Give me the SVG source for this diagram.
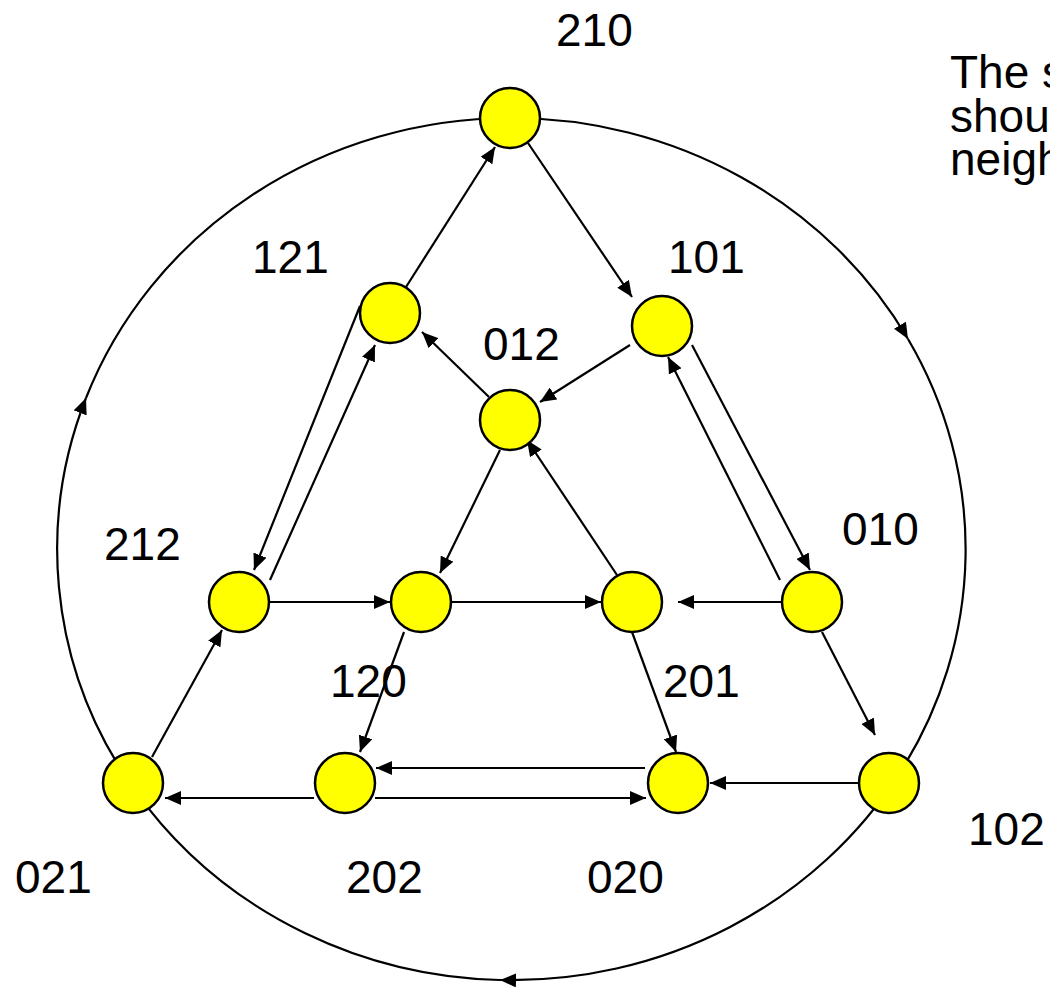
<svg xmlns="http://www.w3.org/2000/svg" width="1050" height="987" viewBox="0 0 1050 987">
<style>
.lbl{font-family:"Liberation Sans",Arial,sans-serif;font-size:46px;fill:#000}
.node{fill:#FFFF00;stroke:#000;stroke-width:2.5}
.e{stroke:#000;stroke-width:2.2;fill:none;marker-end:url(#ah)}
.ring{stroke:#000;stroke-width:2.2;fill:none}
</style>
<defs>
<marker id="ah" viewBox="0 0 16 14" refX="16" refY="7" markerWidth="16" markerHeight="14" markerUnits="userSpaceOnUse" orient="auto">
<path d="M0,0 L16,7 L0,14 z" fill="#000"/>
</marker>
</defs>
<rect width="1050" height="987" fill="#fff"/>
<g id="connectors">
<path class="e" d="M511,118 A454,431 0 0 1 908,339"/>
<path class="e" d="M908,339 A454,431 0 0 1 500,980"/>
<path class="e" d="M500,980 A454,431 0 0 1 86,398"/>
<path class="ring" d="M86,398 A454,431 0 0 1 511,118"/>
<line class="e" x1="406" y1="287" x2="495" y2="147"/>
<line class="e" x1="528" y1="143" x2="632" y2="297"/>
<line class="e" x1="630" y1="345" x2="540" y2="402"/>
<line class="e" x1="489" y1="397" x2="422" y2="332"/>
<line class="e" x1="360" y1="306" x2="254" y2="570"/>
<line class="e" x1="270" y1="580" x2="375" y2="345"/>
<line class="e" x1="500" y1="450" x2="440" y2="573"/>
<line class="e" x1="617" y1="575" x2="527" y2="440"/>
<line class="e" x1="692" y1="345" x2="810" y2="570"/>
<line class="e" x1="780" y1="580" x2="668" y2="357"/>
<line class="e" x1="822" y1="632" x2="875" y2="735"/>
<line class="e" x1="269" y1="602" x2="390" y2="602"/>
<line class="e" x1="451" y1="602" x2="601" y2="602"/>
<line class="e" x1="782" y1="602" x2="678" y2="602"/>
<line class="e" x1="404" y1="632" x2="360" y2="752"/>
<line class="e" x1="632" y1="632" x2="676" y2="752"/>
<line class="e" x1="152" y1="757" x2="222" y2="630"/>
<line class="e" x1="645" y1="768" x2="376" y2="768"/>
<line class="e" x1="375" y1="798" x2="646" y2="798"/>
<line class="e" x1="314" y1="798" x2="165" y2="798"/>
<line class="e" x1="859" y1="783" x2="710" y2="783"/>
</g>
<g id="n210"><circle class="node" cx="510" cy="118" r="30"/><text class="lbl" x="556" y="46">210</text></g>
<g id="n121"><circle class="node" cx="390" cy="313" r="30"/><text class="lbl" x="252" y="273">121</text></g>
<g id="n101"><circle class="node" cx="662" cy="326" r="30"/><text class="lbl" x="668" y="273">101</text></g>
<g id="n012"><circle class="node" cx="510" cy="420" r="30"/><text class="lbl" x="483" y="360">012</text></g>
<g id="n212"><circle class="node" cx="239" cy="602" r="30"/><text class="lbl" x="104" y="560">212</text></g>
<g id="n120"><circle class="node" cx="421" cy="602" r="30"/><text class="lbl" x="330" y="697">120</text></g>
<g id="n201"><circle class="node" cx="632" cy="602" r="30"/><text class="lbl" x="663" y="697">201</text></g>
<g id="n010"><circle class="node" cx="812" cy="602" r="30"/><text class="lbl" x="842" y="545">010</text></g>
<g id="n021"><circle class="node" cx="133" cy="783" r="30"/><text class="lbl" x="15" y="893">021</text></g>
<g id="n202"><circle class="node" cx="345" cy="783" r="30"/><text class="lbl" x="346" y="893">202</text></g>
<g id="n020"><circle class="node" cx="678" cy="783" r="30"/><text class="lbl" x="587" y="893">020</text></g>
<g id="n102"><circle class="node" cx="889" cy="783" r="30"/><text class="lbl" x="968" y="845">102</text></g>
<g id="note">
<text class="lbl" x="950" y="88">The s</text>
<text class="lbl" x="950" y="132">shou</text>
<text class="lbl" x="950" y="175">neigh</text>
</g>
</svg>
